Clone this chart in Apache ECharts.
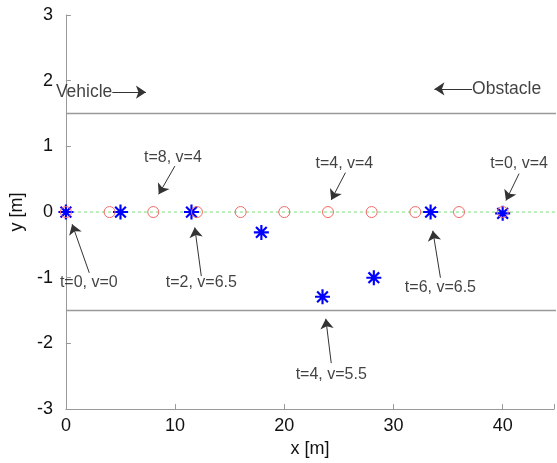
<!DOCTYPE html>
<html>
<head>
<meta charset="utf-8">
<script src="https://cdn.jsdelivr.net/npm/echarts@6/dist/echarts.min.js"></script>
<style>html,body{margin:0;padding:0;background:#fff;overflow:hidden}#c{width:557px;height:463px}</style>
</head>
<body>
<div id="c"></div>
<script>
// ---- data ----
const obstacleX = [0, 4, 8, 12, 16, 20, 24, 28, 32, 36, 40];
const obstacleY = [0, 0, 0, 0, 0, 0, 0, 0, 0, 0, 0];
const vehicleX = [0, 5, 11.5, 17.9, 23.5, 28.2, 33.4, 40];
const vehicleY = [0, 0, 0, -0.31, -1.29, -1.0, 0, -0.02];
const laneY = [1.5, -1.5];
const laneX = [0, 45];
const centerX = [0, 45];
const centerY = 0;
const xTicks = [0, 10, 20, 30, 40];
const yTicks = [-3, -2, -1, 0, 1, 2, 3];

const noteText = ['t=0, v=0', 't=2, v=6.5', 't=8, v=4', 't=4, v=4', 't=0, v=4', 't=6, v=6.5', 't=4, v=5.5'];
const noteX = [2.1, 12.4, 9.8, 25.5, 41.5, 34.3, 24.3];
const noteY = [-1.07, -1.07, 0.835, 0.735, 0.735, -1.15, -2.47];
const arrowFromX = [2.14, 12.4, 9.98, 25.6, 41.5, 34.3, 24.3];
const arrowFromY = [-0.925, -0.975, 0.70, 0.6, 0.585, -1.0, -2.3];
const arrowToX = [0.57, 11.8, 8.5, 24.3, 40.3, 33.6, 23.8];
const arrowToY = [-0.185, -0.235, 0.27, 0.185, 0.175, -0.285, -1.625];

const legendText = ['Vehicle', 'Obstacle'];
const legendTailX = [4.25, 37.2];
const legendHeadX = [7.33, 33.75];
const legendY = [1.825, 1.875];

// ---- chart ----
const FONT = '"Liberation Sans", Arial, sans-serif';
const chart = echarts.init(document.getElementById('c'), null, {renderer: 'canvas', width: 557, height: 463});

const starPath = 'path://M0 6H14V8H0Z M6 0H8V14H6Z M2.71 1.29L12.71 11.29L11.29 12.71L1.29 2.71Z M11.29 1.29L12.71 2.71L2.71 12.71L1.29 11.29Z';

const arrowData = noteText.map((t, i) => [
  {coord: [arrowFromX[i], arrowFromY[i]]},
  {coord: [arrowToX[i], arrowToY[i]]}
]);
const legendArrowData = legendText.map((t, i) => [
  {coord: [legendTailX[i], legendY[i]]},
  {coord: [legendHeadX[i], legendY[i]]}
]);

chart.setOption({
  animation: false,
  backgroundColor: '#fff',
  grid: {left: 63, width: 494, top: 15, height: 400, containLabel: false},
  xAxis: {
    type: 'value', min: 0, max: 44.7, interval: 10,
    name: 'x [m]', nameLocation: 'middle', nameGap: 25,
    nameTextStyle: {fontFamily: FONT, fontSize: 18, color: '#111'},
    axisLine: {show: true, onZero: false, lineStyle: {color: '#999', width: 1}},
    axisTick: {show: true, inside: true, length: 5, lineStyle: {color: '#999'}},
    axisLabel: {fontFamily: FONT, fontSize: 18, color: '#111', margin: 8,
      formatter: v => (xTicks.indexOf(v) >= 0 ? String(v) : '')},
    splitLine: {show: false}
  },
  yAxis: {
    type: 'value', min: -3, max: 3, interval: 1,
    name: 'y [m]', nameLocation: 'middle', nameGap: 36,
    nameTextStyle: {fontFamily: FONT, fontSize: 18, color: '#111'},
    axisLine: {show: true, onZero: false, lineStyle: {color: '#999', width: 1}},
    axisTick: {show: true, inside: true, length: 5, lineStyle: {color: '#999'}},
    axisLabel: {fontFamily: FONT, fontSize: 18, color: '#111', margin: 13,
      formatter: v => (yTicks.indexOf(v) >= 0 ? String(v) : '')},
    splitLine: {show: false}
  },
  series: [
    ...laneY.map(yv => ({
      type: 'line', silent: true, symbol: 'none',
      data: laneX.map(xv => [xv, yv]),
      lineStyle: {color: '#999', width: 1.5}, z: 1
    })),
    {
      type: 'line', silent: true, symbol: 'none',
      data: centerX.map(xv => [xv, centerY]),
      lineStyle: {color: '#77dd77', width: 1, type: [3, 3]}, z: 2
    },
    {
      type: 'scatter', silent: true, symbol: starPath, symbolSize: 15,
      data: vehicleX.map((xv, i) => [xv, vehicleY[i]]),
      itemStyle: {color: '#0000ff', opacity: 1}, z: 3
    },
    {
      type: 'scatter', silent: true, symbol: 'circle', symbolSize: 11,
      data: obstacleX.map((xv, i) => [xv, obstacleY[i]]),
      itemStyle: {color: 'rgba(0,0,0,0)', borderColor: '#f36b6b', borderWidth: 1, opacity: 1}, z: 4
    },
    {
      type: 'line', silent: true, data: [[0, 0]], symbol: 'none', lineStyle: {opacity: 0}, z: 5,
      markLine: {
        silent: true, animation: false, symbol: ['none', 'arrow'], symbolSize: 10,
        label: {show: false},
        lineStyle: {color: '#333', width: 1, type: 'solid'},
        data: arrowData.concat(legendArrowData)
      }
    },
    {
      type: 'scatter', silent: true, symbolSize: 0, z: 6,
      data: noteText.map((t, i) => ({value: [noteX[i], noteY[i]], name: t})),
      label: {show: true, position: 'inside', formatter: p => p.name,
        fontFamily: FONT, fontSize: 16, color: '#111'}
    },
    {
      type: 'scatter', silent: true, symbolSize: 0, z: 6,
      data: [
        {value: [legendTailX[0], legendY[0]], name: legendText[0], label: {align: 'right'}},
        {value: [legendTailX[1], legendY[1]], name: legendText[1], label: {align: 'left'}}
      ],
      label: {show: true, position: 'inside', formatter: p => p.name,
        fontFamily: FONT, fontSize: 17.5, color: '#111'}
    }
  ]
});
</script>
</body>
</html>
